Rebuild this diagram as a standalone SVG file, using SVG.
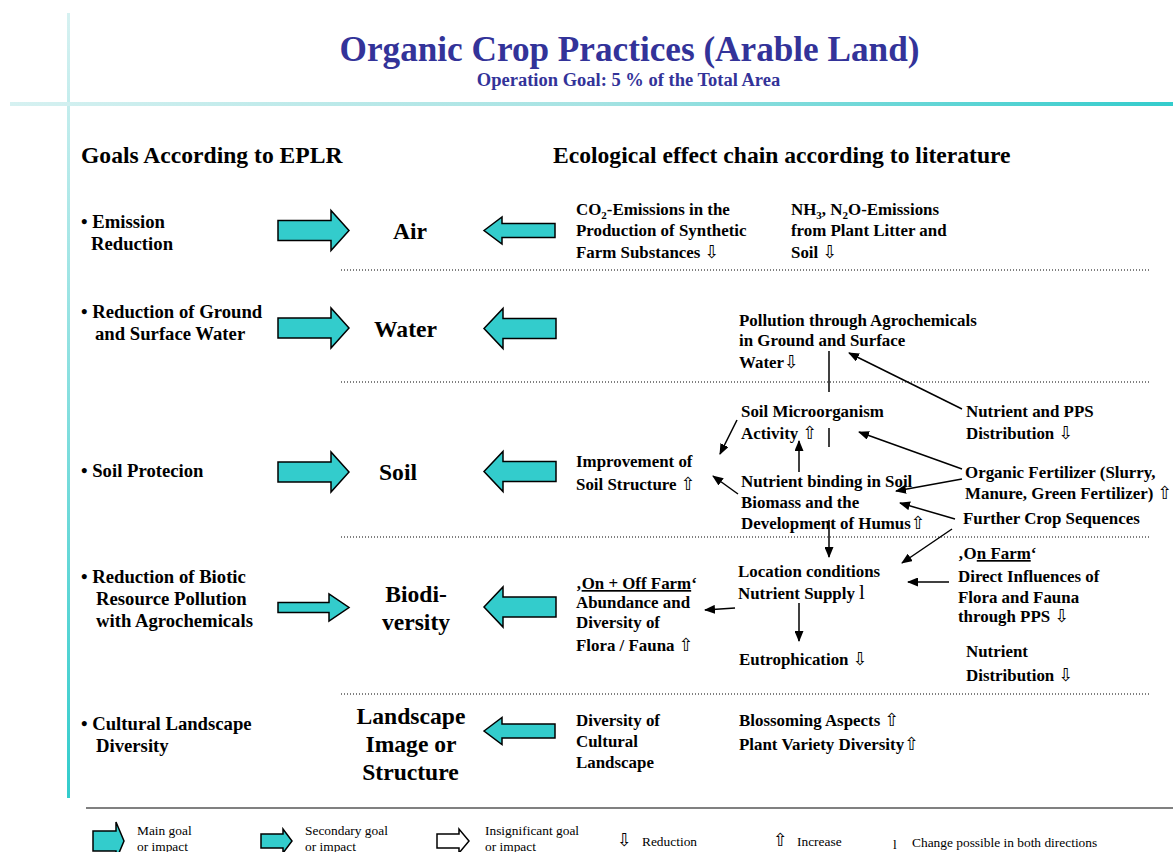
<svg xmlns="http://www.w3.org/2000/svg" width="1173" height="852" viewBox="0 0 1173 852">
<style>
.t{font-family:"Liberation Serif","DejaVu Sans",serif;font-weight:bold;fill:#000}
.b{font-size:18.7px}
.big{font-size:23.6px;text-anchor:middle}
.c{font-size:16.9px}
.h{font-size:23.6px}
.lg{font-family:"Liberation Serif","DejaVu Sans",serif;font-size:13.4px;fill:#000}
.sym{font-family:"DejaVu Sans",sans-serif;font-weight:normal;font-size:18px}
.fat{fill:#33cccc;stroke:#000;stroke-width:1.5;stroke-linejoin:miter}
.dot{stroke:#000;stroke-width:1;stroke-dasharray:1 2;fill:none}
.ln{stroke:#000;stroke-width:1.5;fill:none}
.ar{stroke:#000;stroke-width:1.5;fill:none;marker-end:url(#ah)}
</style>
<defs>
<linearGradient id="gh" x1="0" y1="0" x2="1" y2="0">
<stop offset="0" stop-color="#d6f1f1"/><stop offset="0.5" stop-color="#a6e3e3"/><stop offset="1" stop-color="#33cccc"/>
</linearGradient>
<linearGradient id="gv" x1="0" y1="0" x2="0" y2="1">
<stop offset="0" stop-color="#d6f1f1"/><stop offset="1" stop-color="#33cccc"/>
</linearGradient>
<marker id="ah" markerUnits="userSpaceOnUse" markerWidth="11" markerHeight="9" refX="10" refY="4.5" orient="auto">
<path d="M0,0 L11,4.5 L0,9 Z" fill="#000"/>
</marker>
<path id="rMain" d="M0,-10 H53 V-20 L71,0 L53,20 V10 H0 Z"/>
<path id="rSec" d="M0,-5 H51 V-13.5 L71,0 L51,13.5 V5 H0 Z"/>
<path id="lMain" d="M0,0 L19,-20 V-10 H72 V10 H19 V20 Z"/>
<path id="lSec" d="M0,0 L18,-13.5 V-7 H71 V7 H18 V13.5 Z"/>
</defs>
<rect width="1173" height="852" fill="#fff"/>

<g id="frame">
<rect x="67" y="13" width="3" height="785" fill="url(#gv)"/>
<rect x="10" y="102" width="1163" height="4" fill="url(#gh)"/>
<line x1="86" y1="808" x2="1173" y2="808" stroke="#808080" stroke-width="2"/>
<line class="dot" x1="341" y1="270" x2="1150" y2="270"/>
<line class="dot" x1="341" y1="382" x2="1150" y2="382"/>
<line class="dot" x1="341" y1="537" x2="1150" y2="537"/>
<line class="dot" x1="341" y1="694" x2="1150" y2="694"/>
</g>

<g id="title">
<text x="629.5" y="61" text-anchor="middle" font-family="Liberation Serif,serif" font-weight="bold" font-size="35.2" fill="#333399">Organic Crop Practices (Arable Land)</text>
<text x="628.5" y="86" text-anchor="middle" font-family="Liberation Serif,serif" font-weight="bold" font-size="18.5" fill="#333399">Operation Goal: 5 % of the Total Area</text>
</g>

<g id="headers">
<text class="t h" x="81" y="163">Goals According to EPLR</text>
<text class="t h" x="553" y="163">Ecological effect chain according to literature</text>
</g>

<g id="goals">
<text class="t b" x="81" y="228">• Emission</text>
<text class="t b" x="91" y="250">Reduction</text>
<text class="t b" x="81" y="318">• Reduction of Ground</text>
<text class="t b" x="95" y="340">and Surface Water</text>
<text class="t b" x="81" y="477">• Soil Protecion</text>
<text class="t b" x="81" y="583">• Reduction of Biotic</text>
<text class="t b" x="96" y="605">Resource Pollution</text>
<text class="t b" x="96" y="627">with Agrochemicals</text>
<text class="t b" x="81" y="730">• Cultural Landscape</text>
<text class="t b" x="96" y="752">Diversity</text>
</g>

<g id="goal-arrows">
<use href="#rMain" class="fat" transform="translate(278,230.5)"/>
<use href="#rMain" class="fat" transform="translate(278,328)"/>
<use href="#rMain" class="fat" transform="translate(278,472)"/>
<use href="#rSec" class="fat" transform="translate(278,607.5)"/>
<use href="#lSec" class="fat" transform="translate(484,230.5)"/>
<use href="#lMain" class="fat" transform="translate(484,328.5)"/>
<use href="#lMain" class="fat" transform="translate(484,471.5)"/>
<use href="#lMain" class="fat" transform="translate(484,607)"/>
<use href="#lSec" class="fat" transform="translate(484,731)"/>
</g>

<g id="targets">
<text class="t big" x="410" y="239">Air</text>
<text class="t big" x="405.5" y="337">Water</text>
<text class="t big" x="398" y="480">Soil</text>
<text class="t big" x="416" y="602">Biodi-</text>
<text class="t big" x="416" y="630">versity</text>
<text class="t big" x="411" y="724">Landscape</text>
<text class="t big" x="411" y="752">Image or</text>
<text class="t big" x="410.5" y="780">Structure</text>
</g>

<g id="node-co2">
<text class="t c" x="576" y="215">CO<tspan font-size="11" dy="4">2</tspan><tspan dy="-4">-Emissions in the</tspan></text>
<text class="t c" x="576" y="236">Production of Synthetic</text>
<text class="t c" x="576" y="258">Farm Substances <tspan class="sym">⇩</tspan></text>
</g>
<g id="node-nh3">
<text class="t c" x="791" y="215">NH<tspan font-size="11" dy="4">3</tspan><tspan dy="-4">, N</tspan><tspan font-size="11" dy="4">2</tspan><tspan dy="-4">O-Emissions</tspan></text>
<text class="t c" x="791" y="236">from Plant Litter and</text>
<text class="t c" x="791" y="258">Soil <tspan class="sym">⇩</tspan></text>
</g>
<g id="node-pollution">
<text class="t c" x="739" y="326">Pollution through Agrochemicals</text>
<text class="t c" x="739" y="346">in Ground and Surface</text>
<text class="t c" x="739" y="368">Water<tspan class="sym">⇩</tspan></text>
</g>
<g id="node-microorg">
<text class="t c" x="741" y="417">Soil Microorganism</text>
<text class="t c" x="741" y="439">Activity <tspan class="sym">⇧</tspan></text>
</g>
<g id="node-nutrient-pps">
<text class="t c" x="966" y="417">Nutrient and PPS</text>
<text class="t c" x="966" y="439">Distribution <tspan class="sym">⇩</tspan></text>
</g>
<g id="node-improvement">
<text class="t c" x="576" y="467">Improvement of</text>
<text class="t c" x="576" y="490">Soil Structure <tspan class="sym">⇧</tspan></text>
</g>
<g id="node-binding">
<text class="t c" x="741" y="487">Nutrient binding in Soil</text>
<text class="t c" x="741" y="508">Biomass and the</text>
<text class="t c" x="741" y="529">Development of  Humus<tspan class="sym">⇧</tspan></text>
</g>
<g id="node-organic">
<text class="t c" x="965" y="478">Organic Fertilizer (Slurry,</text>
<text class="t c" x="965" y="499">Manure, Green Fertilizer) <tspan class="sym">⇧</tspan></text>
</g>
<g id="node-crop">
<text class="t c" x="963" y="524">Further Crop Sequences</text>
</g>
<g id="node-onfarm">
<text class="t c" x="958" y="559">‚O<tspan text-decoration="underline">n Farm</tspan>‘</text>
<text class="t c" x="958" y="582">Direct Influences of</text>
<text class="t c" x="958" y="603">Flora and Fauna</text>
<text class="t c" x="958" y="622">through PPS <tspan class="sym">⇩</tspan></text>
</g>
<g id="node-nutrient-dist">
<text class="t c" x="966" y="657">Nutrient</text>
<text class="t c" x="966" y="681">Distribution <tspan class="sym">⇩</tspan></text>
</g>
<g id="node-location">
<text class="t c" x="738" y="577">Location conditions</text>
<text class="t c" x="738" y="599">Nutrient Supply<tspan x="859" font-weight="normal" font-size="21">l</tspan></text>
</g>
<g id="node-abundance">
<text class="t c" x="576" y="589">‚<tspan text-decoration="underline">On + Off Farm</tspan>‘</text>
<text class="t c" x="576" y="608">Abundance and</text>
<text class="t c" x="576" y="628">Diversity of</text>
<text class="t c" x="576" y="651">Flora / Fauna <tspan class="sym">⇧</tspan></text>
</g>
<g id="node-eutro">
<text class="t c" x="739" y="665">Eutrophication <tspan class="sym">⇩</tspan></text>
</g>
<g id="node-cultural">
<text class="t c" x="576" y="726">Diversity of</text>
<text class="t c" x="576" y="747">Cultural</text>
<text class="t c" x="576" y="768">Landscape</text>
</g>
<g id="node-blossom">
<text class="t c" x="739" y="726">Blossoming Aspects <tspan class="sym">⇧</tspan></text>
<text class="t c" x="739" y="750">Plant Variety Diversity<tspan class="sym">⇧</tspan></text>
</g>

<g id="connectors">
<line class="ar" x1="962" y1="409" x2="849" y2="353"/>
<line class="ln" x1="829" y1="351" x2="829" y2="392"/>
<line class="ln" x1="829" y1="428" x2="829" y2="447"/>
<line class="ar" x1="799" y1="472" x2="799" y2="441"/>
<line class="ar" x1="737" y1="420" x2="720" y2="454"/>
<line class="ar" x1="738" y1="494" x2="713" y2="476"/>
<line class="ar" x1="962" y1="469" x2="859" y2="432"/>
<line class="ar" x1="962" y1="479" x2="896" y2="491"/>
<line class="ar" x1="955" y1="519" x2="900" y2="503"/>
<line class="ar" x1="952" y1="529" x2="902" y2="563"/>
<line class="ar" x1="829" y1="520" x2="829" y2="557"/>
<line class="ar" x1="949" y1="582" x2="908" y2="582"/>
<line class="ar" x1="735" y1="608" x2="705" y2="610"/>
<line class="ar" x1="799" y1="603" x2="799" y2="641"/>
</g>

<g id="legend">
<path class="fat" d="M93,831 H116 V822 L124,841 L116,860 V851 H93 Z"/>
<text class="lg" x="137" y="835">Main goal</text>
<text class="lg" x="137" y="851">or impact</text>
<path class="fat" d="M261,834 H283 V829 L292,841 L283,853 V848 H261 Z"/>
<text class="lg" x="305" y="835">Secondary goal</text>
<text class="lg" x="305" y="851">or impact</text>
<path d="M437,834 H459 V829 L469,841 L459,853 V848 H437 Z" fill="#fff" stroke="#000" stroke-width="1.5"/>
<text class="lg" x="485" y="835">Insignificant goal</text>
<text class="lg" x="485" y="851">or impact</text>
<text class="lg" x="617" y="846"><tspan class="sym">⇩</tspan></text>
<text class="lg" x="642" y="846">Reduction</text>
<text class="lg" x="773" y="846"><tspan class="sym">⇧</tspan></text>
<text class="lg" x="797" y="846">Increase</text>
<text class="lg" x="893" y="849" font-size="21">l</text>
<text class="lg" x="912" y="847">Change possible in both directions</text>
</g>
</svg>
